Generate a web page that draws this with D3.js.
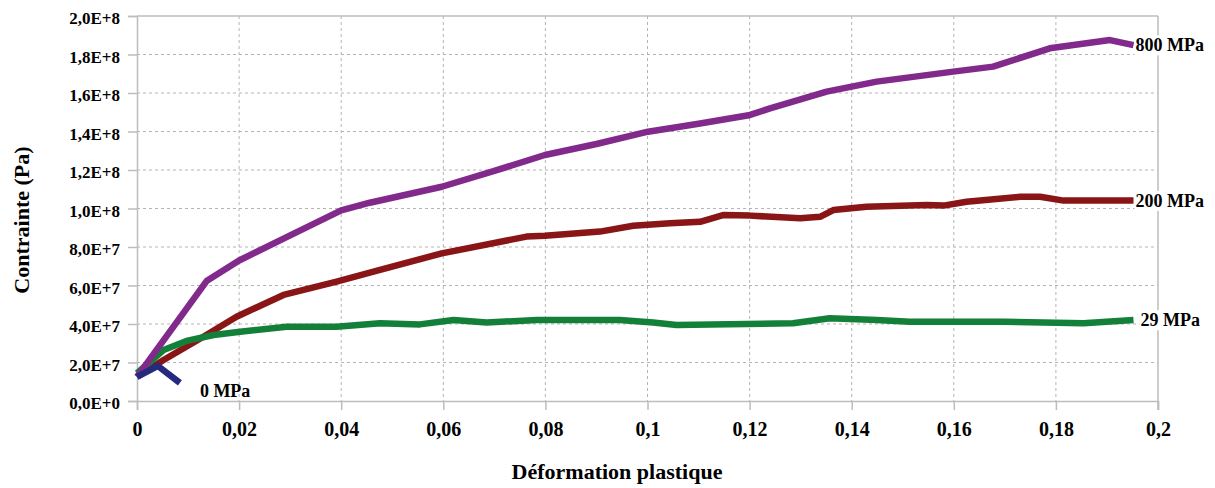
<!DOCTYPE html>
<html><head><meta charset="utf-8">
<script src="https://cdn.jsdelivr.net/npm/d3@7"></script>
<style>
html,body{margin:0;padding:0;background:#fff;}
svg{display:block;}
text{font-family:"Times New Roman","Liberation Serif","DejaVu Serif",serif !important;font-weight:bold;fill:#000;}
</style></head>
<body>
<svg id="chart" width="1215" height="488"></svg>
<script>
// ---- data ----
const xTickValues = [0,0.02,0.04,0.06,0.08,0.1,0.12,0.14,0.16,0.18,0.2];
const xTickLabels = ["0","0,02","0,04","0,06","0,08","0,1","0,12","0,14","0,16","0,18","0,2"];
const yTickValues = [0,2e7,4e7,6e7,8e7,1e8,1.2e8,1.4e8,1.6e8,1.8e8,2e8];
const yTickLabels = ["0,0E+0","2,0E+7","4,0E+7","6,0E+7","8,0E+7","1,0E+8","1,2E+8","1,4E+8","1,6E+8","1,8E+8","2,0E+8"];

const seriesNames = ["200 MPa","29 MPa","800 MPa","0 MPa"];
const seriesColors = ["#8a1516","#128039","#822a8c","#262a7e"];

const strain200 = [0,0.0052,0.013,0.0195,0.0287,0.0391,0.0476,0.0597,0.0763,0.0799,0.0907,0.0972,0.1044,0.1103,0.1148,0.1201,0.1299,0.1338,0.1364,0.1429,0.1547,0.158,0.1625,0.173,0.1769,0.1815,0.1952];
const stress200 = [12.6e6,21.3e6,33.4e6,43.8e6,55.1e6,62.0e6,68.1e6,76.7e6,85.4e6,85.8e6,88.0e6,91.0e6,92.3e6,93.1e6,96.6e6,96.3e6,94.9e6,95.7e6,99.2e6,100.9e6,101.8e6,101.5e6,103.5e6,106.1e6,106.1e6,104.1e6,104.1e6];

const strain29 = [0,0.0052,0.0097,0.015,0.0202,0.0293,0.0391,0.0476,0.0554,0.062,0.0685,0.0783,0.0946,0.1011,0.1057,0.1285,0.1357,0.1449,0.1514,0.17,0.1854,0.1952];
const stress29 = [14.4e6,26.5e6,31.2e6,34.3e6,36.0e6,38.6e6,38.6e6,40.4e6,39.8e6,42.1e6,40.8e6,42.1e6,42.1e6,40.8e6,39.5e6,40.4e6,43.0e6,42.1e6,41.2e6,41.2e6,40.4e6,42.1e6];

const strain800 = [0,0.0137,0.02,0.03,0.04,0.0456,0.0597,0.07,0.0799,0.09,0.1001,0.11,0.1201,0.124,0.1351,0.1449,0.1599,0.1677,0.1788,0.1906,0.1952];
const stress800 = [12.5e6,62.5e6,73e6,86e6,99e6,103e6,111.3e6,119.5e6,127.8e6,133.5e6,139.9e6,144e6,148.6e6,152e6,160.7e6,165.9e6,171.1e6,173.7e6,183.2e6,187.5e6,184.9e6];

const strain0 = [0,0.0041,0.0084];
const stress0 = [12.5e6,18.2e6,9.4e6];

// ---- layout ----
const FONT = "'Times New Roman','Liberation Serif','DejaVu Serif',serif";
const svg = d3.select("#chart");
const L = 137, R = 1158, T = 16, B = 401;
const x = d3.scaleLinear().domain([0,0.2]).range([L,R]);
const y = d3.scaleLinear().domain([0,2e8]).range([B,T]);
const gridColor = "#b4b4b4";
const axisColor = "#bdbdbd";

// grid
const g = svg.append("g");
g.selectAll("line.vg").data(xTickValues.slice(1,-1)).join("line")
  .attr("x1",d=>x(d)).attr("x2",d=>x(d)).attr("y1",T).attr("y2",B)
  .attr("stroke",gridColor).attr("stroke-width",1).attr("stroke-dasharray","3,3");
g.selectAll("line.hg").data(yTickValues.slice(1,-1)).join("line")
  .attr("y1",d=>y(d)).attr("y2",d=>y(d)).attr("x1",L).attr("x2",R)
  .attr("stroke",gridColor).attr("stroke-width",1).attr("stroke-dasharray","3,3");
// border top & right
svg.append("line").attr("x1",L).attr("x2",R).attr("y1",y(2e8)).attr("y2",y(2e8)).attr("stroke",axisColor).attr("stroke-width",1.5);
svg.append("line").attr("x1",x(0.2)).attr("x2",x(0.2)).attr("y1",T).attr("y2",B+9).attr("stroke",axisColor).attr("stroke-width",1.5);

// axes
const xAxis = d3.axisBottom(x).tickValues(xTickValues).tickFormat((d,i)=>xTickLabels[i]).tickSizeOuter(0).tickSize(9).tickPadding(12);
const gx = svg.append("g").attr("transform",`translate(0,${B})`).call(xAxis).attr("font-family",FONT);
gx.select(".domain").attr("stroke",axisColor).attr("stroke-width",1.5);
gx.selectAll(".tick line").attr("stroke",axisColor).attr("stroke-width",1.5);
gx.selectAll(".tick text").style("font-family",FONT).style("font-weight","bold").style("font-size","20px").attr("fill","#000");

const yAxis = d3.axisLeft(y).tickValues(yTickValues).tickFormat((d,i)=>yTickLabels[i]).tickSizeOuter(0).tickSize(9).tickPadding(8);
const gy = svg.append("g").attr("transform",`translate(${L},0)`).call(yAxis).attr("font-family",FONT);
gy.select(".domain").attr("stroke",axisColor).attr("stroke-width",1.5);
gy.selectAll(".tick line").attr("stroke",axisColor).attr("stroke-width",1.5);
gy.selectAll(".tick text").style("font-family",FONT).style("font-weight","bold").style("font-size","17px").attr("fill","#000").attr("dy","0.45em");

// lines
const strains = [strain200,strain29,strain800,strain0];
const stresses = [stress200,stress29,stress800,stress0];
const line = d3.line().x(d=>x(d[0])).y(d=>y(d[1]));
seriesNames.forEach((name,i)=>{
  const pts = strains[i].map((s,j)=>[s,stresses[i][j]]);
  svg.append("path").datum(pts).attr("d",line).attr("fill","none")
    .attr("stroke",seriesColors[i]).attr("stroke-width",6.5)
    .attr("stroke-linejoin","round").attr("stroke-linecap","butt");
});

// series labels (with white background)
const labelPos = [
  {i:0, dx:2, dy:0},
  {i:1, dx:7, dy:0},
  {i:2, dx:2, dy:0},
  {i:3, dx:20, dy:8}
];
labelPos.forEach(p=>{
  const sx = strains[p.i][strains[p.i].length-1];
  const sy = stresses[p.i][stresses[p.i].length-1];
  const lx = x(sx)+p.dx, ly = y(sy)+p.dy;
  const lg = svg.append("g");
  const bgRect = lg.append("rect").attr("fill","#fff");
  const t = lg.append("text").attr("x",lx).attr("y",ly).attr("dy","0.35em")
    .style("font-family",FONT).style("font-size","18px").text(seriesNames[p.i]);
  if(p.i!==3){
    const bb = t.node().getBBox();
    bgRect.attr("x",bb.x-1).attr("y",bb.y).attr("width",bb.width+2).attr("height",bb.height);
  } else {
    bgRect.remove();
  }
});

// axis titles
svg.append("text").attr("x",617).attr("y",479).attr("text-anchor","middle").style("font-family",FONT).style("font-size","22px").text("Déformation plastique");
svg.append("text").attr("transform","translate(29,220) rotate(-90)").attr("text-anchor","middle").style("font-family",FONT).style("font-size","22px").text("Contrainte (Pa)");
</script>
</body></html>
